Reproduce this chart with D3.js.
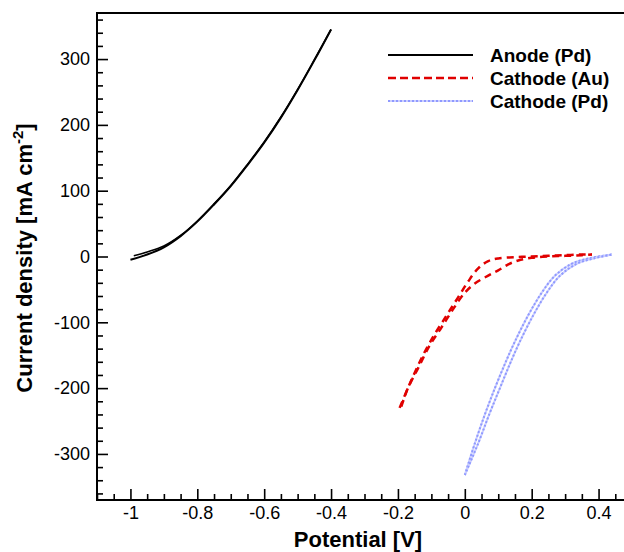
<!DOCTYPE html>
<html lang="en">
<head>
    <meta charset="utf-8">
    <title>Polarization curves</title>
    <script src="https://d3js.org/d3.v7.min.js"></script>
    <style>
        body { margin: 0; background: #fff; }
        svg { display: block; font-family: "Liberation Sans", Arial, sans-serif; }
    </style>
</head>
<body>
    <div id="chart"></div>
    <script>
        // Data (potential in V, current density in mA cm-2)
        const anodeFwdV = [-1.0, -0.95, -0.9, -0.85, -0.8, -0.75, -0.7, -0.65, -0.6, -0.55, -0.5, -0.45, -0.4];
        const anodeFwdJ = [-5, 3, 14, 31, 53, 79, 107, 139, 173, 211, 253, 298, 345];
        const anodeRevV = [-0.99, -0.95, -0.9, -0.85, -0.8, -0.75, -0.7, -0.65, -0.6, -0.55, -0.5, -0.45, -0.4];
        const anodeRevJ = [1, 7, 16, 32, 54, 80, 108, 140, 174, 212, 254, 299, 345];

        const auOuterV = [-0.195, -0.16, -0.125, -0.09, -0.055, -0.02, 0.01, 0.04, 0.07, 0.1, 0.15, 0.2, 0.25, 0.3, 0.35, 0.38];
        const auOuterJ = [-230, -188, -150, -118, -90, -62, -38, -18, -7, -3, -1, 0, 1, 2, 3, 3];
        const auInnerV = [-0.19, -0.17, -0.14, -0.105, -0.07, -0.035, 0, 0.03, 0.07, 0.1, 0.13, 0.16, 0.2, 0.25, 0.3, 0.35, 0.38];
        const auInnerJ = [-228, -200, -170, -135, -108, -80, -55, -41, -29, -21, -12, -6, -2, 0, 1, 2, 3];

        const pdLeftV = [0, 0.03, 0.06, 0.09, 0.12, 0.15, 0.19, 0.23, 0.27, 0.32, 0.37, 0.44];
        const pdLeftJ = [-332, -284, -240, -200, -163, -129, -89, -55, -29, -11, -3, 3];
        const pdRightV = [0, 0.04, 0.073, 0.105, 0.135, 0.165, 0.205, 0.245, 0.285, 0.335, 0.385, 0.44];
        const pdRightJ = [-332, -284, -240, -200, -163, -129, -89, -55, -29, -11, -3, 3];

        const seriesNames = ["Anode (Pd)", "Cathode (Au)", "Cathode (Pd)"];
        const xTicks = [-1, -0.8, -0.6, -0.4, -0.2, 0, 0.2, 0.4];
        const yTicks = [-300, -200, -100, 0, 100, 200, 300];

        // Chart dimensions
        const width = 624, height = 552;
        const plotLeft = 97, plotRight = 632, plotTop = 13, plotBottom = 500;

        const svg = d3.select("#chart")
            .append("svg")
            .attr("width", width)
            .attr("height", height);

        // Scales
        const x = d3.scaleLinear().domain([-1.1, 0.5]).range([plotLeft, plotRight]);
        const y = d3.scaleLinear().domain([-370, 370]).range([plotBottom, plotTop]);

        const zip = (vs, js) => vs.map((v, i) => [v, js[i]]);
        const line = d3.line()
            .x(d => x(d[0]))
            .y(d => y(d[1]))
            .curve(d3.curveCatmullRom.alpha(0.5));

        // Minor ticks
        const xMinor = d3.range(-1.1, 0.5001, 0.05).map(v => +v.toFixed(2))
            .filter(v => !xTicks.some(t => Math.abs(t - v) < 1e-6));
        const yMinor = d3.range(-360, 361, 20).filter(v => v % 100 !== 0);

        svg.append("g")
            .attr("transform", `translate(0,${plotBottom})`)
            .call(d3.axisBottom(x).tickValues(xMinor).tickSize(-6).tickFormat(""))
            .call(g => g.select(".domain").remove());

        svg.append("g")
            .attr("transform", `translate(${plotLeft},0)`)
            .call(d3.axisLeft(y).tickValues(yMinor).tickSize(-6).tickFormat(""))
            .call(g => g.select(".domain").remove());

        // Major ticks + labels
        svg.append("g")
            .attr("transform", `translate(0,${plotBottom})`)
            .call(d3.axisBottom(x).tickValues(xTicks).tickSize(-11).tickPadding(6).tickFormat(d => String(d)))
            .call(g => g.select(".domain").remove());

        svg.append("g")
            .attr("transform", `translate(${plotLeft},0)`)
            .call(d3.axisLeft(y).tickValues(yTicks).tickSize(-11).tickPadding(7).tickFormat(d => String(d)))
            .call(g => g.select(".domain").remove());

        svg.selectAll(".tick line").attr("stroke", "#000").attr("stroke-width", 1.6);
        svg.selectAll(".tick text")
            .attr("fill", "#000")
            .style("font-size", "18px")
            .style("font-family", "'Liberation Sans', Arial, sans-serif");

        // Frame
        svg.append("rect")
            .attr("x", plotLeft)
            .attr("y", plotTop)
            .attr("width", plotRight - plotLeft)
            .attr("height", plotBottom - plotTop)
            .attr("fill", "none")
            .attr("stroke", "#000")
            .attr("stroke-width", 2);

        // Curves
        const curves = svg.append("g");

        curves.append("path")
            .attr("d", line(zip(anodeFwdV, anodeFwdJ)))
            .attr("fill", "none").attr("stroke", "#000").attr("stroke-width", 2);
        curves.append("path")
            .attr("d", line(zip(anodeRevV, anodeRevJ)))
            .attr("fill", "none").attr("stroke", "#000").attr("stroke-width", 1.6);

        [zip(auOuterV, auOuterJ), zip(auInnerV, auInnerJ)].forEach(pts => {
            curves.append("path")
                .attr("d", line(pts))
                .attr("fill", "none")
                .attr("stroke", "#e00000")
                .attr("stroke-width", 2.5)
                .attr("stroke-dasharray", "7 5");
        });

        [zip(pdLeftV, pdLeftJ), zip(pdRightV, pdRightJ)].forEach(pts => {
            curves.append("path")
                .attr("d", line(pts))
                .attr("fill", "none")
                .attr("stroke", "#ccd0ff")
                .attr("stroke-width", 2);
            curves.append("path")
                .attr("d", line(pts))
                .attr("fill", "none")
                .attr("stroke", "#8f99ff")
                .attr("stroke-width", 2)
                .attr("stroke-dasharray", "2 2");
        });

        // Axis titles
        svg.append("text")
            .attr("x", 358)
            .attr("y", 547)
            .attr("text-anchor", "middle")
            .style("font-size", "22px")
            .style("font-weight", "bold")
            .text("Potential [V]");

        const yTitle = svg.append("text")
            .attr("transform", "translate(32,258) rotate(-90)")
            .attr("text-anchor", "middle")
            .style("font-size", "22px")
            .style("font-weight", "bold");
        yTitle.append("tspan").text("Current density [mA cm");
        yTitle.append("tspan").attr("dy", -9).style("font-size", "15px").text("-2");
        yTitle.append("tspan").attr("dy", 9).text("]");

        // Legend
        const legendY = [55, 78, 101];
        const legend = svg.append("g");

        legend.append("line")
            .attr("x1", 388).attr("x2", 473)
            .attr("y1", legendY[0]).attr("y2", legendY[0])
            .attr("stroke", "#000").attr("stroke-width", 2);
        legend.append("line")
            .attr("x1", 388).attr("x2", 473)
            .attr("y1", legendY[1]).attr("y2", legendY[1])
            .attr("stroke", "#e00000").attr("stroke-width", 2.5)
            .attr("stroke-dasharray", "8 4");
        legend.append("line")
            .attr("x1", 388).attr("x2", 473)
            .attr("y1", legendY[2]).attr("y2", legendY[2])
            .attr("stroke", "#ccd0ff").attr("stroke-width", 2);
        legend.append("line")
            .attr("x1", 388).attr("x2", 473)
            .attr("y1", legendY[2]).attr("y2", legendY[2])
            .attr("stroke", "#8f99ff").attr("stroke-width", 2)
            .attr("stroke-dasharray", "2 2");

        legend.selectAll("text")
            .data(seriesNames)
            .enter()
            .append("text")
            .attr("x", 490)
            .attr("y", (d, i) => legendY[i] + 7)
            .style("font-size", "19px")
            .style("font-weight", "bold")
            .text(d => d);
    </script>
</body>
</html>
